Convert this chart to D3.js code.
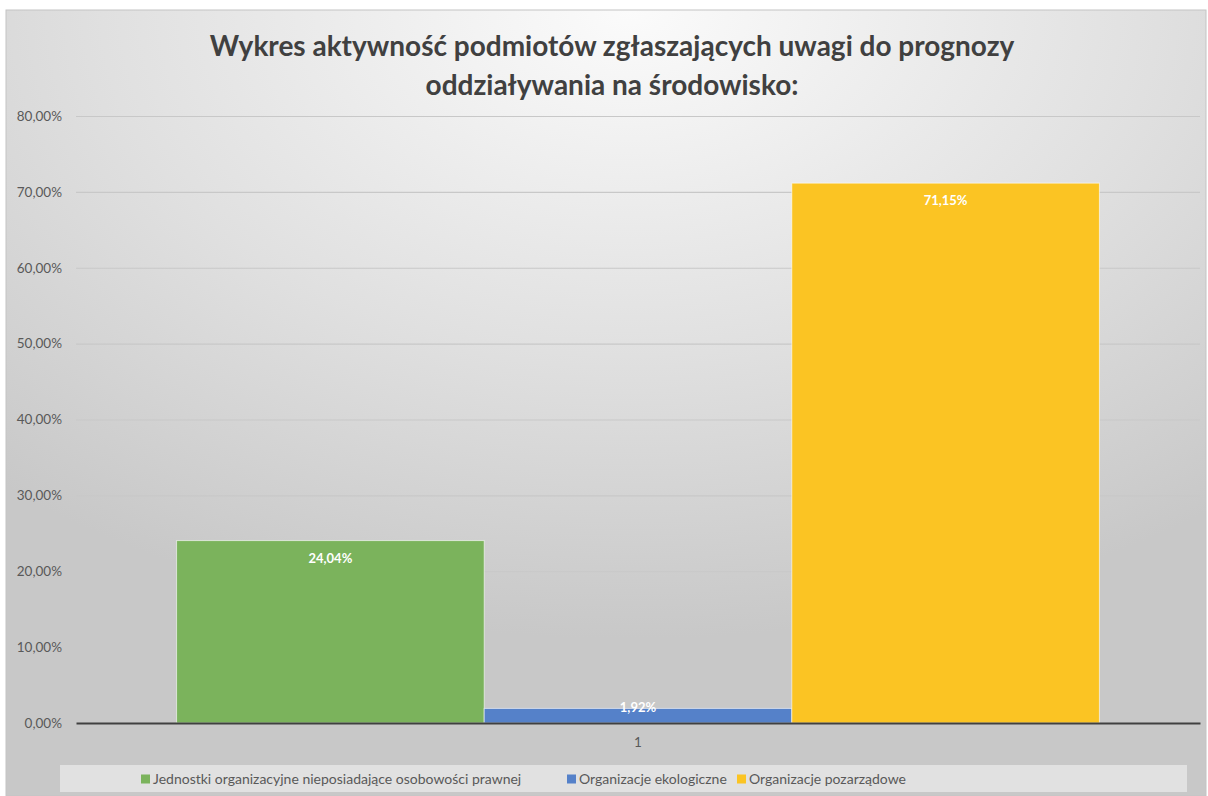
<!DOCTYPE html>
<html>
<head>
<meta charset="utf-8">
<script src="https://cdn.jsdelivr.net/npm/d3@7"></script>
<style>
  html, body { margin: 0; padding: 0; background: #ffffff; }
  svg { display: block; font-family: Lato, "Open Sans", sans-serif; }
</style>
</head>
<body>
<div id="chart"></div>
<script>
// chart data
const titleLines = ["Wykres aktywność podmiotów zgłaszających uwagi do prognozy", "oddziaływania na środowisko:"];
const categories = ["1"];
const seriesNames = [
  "Jednostki organizacyjne nieposiadające osobowości prawnej",
  "Organizacje ekologiczne",
  "Organizacje pozarządowe"
];
const seriesValues = [24.04, 1.92, 71.15];
const seriesColors = ["#7bb35c", "#5581c9", "#fbc423"];
const yTicks = [0, 10, 20, 30, 40, 50, 60, 70, 80];

const width = 1208;
const height = 796;

const frame = { left: 6, top: 10, right: 1206, bottom: 796 };
const plot = { left: 76, right: 1200, top: 116, bottom: 723 };

const fmt = v => v.toFixed(2).replace('.', ',') + '%';

const svg = d3.select('#chart')
  .append('svg')
  .attr('width', width)
  .attr('height', height)
  .attr('viewBox', [0, 0, width, height]);

const defs = svg.append('defs');

// soft radial background like the office chart style
const bg = defs.append('radialGradient')
  .attr('id', 'bg')
  .attr('cx', '52%').attr('cy', '0%')
  .attr('r', '80%');
bg.append('stop').attr('offset', '0%').attr('stop-color', '#fbfbfb');
bg.append('stop').attr('offset', '55%').attr('stop-color', '#e0e0e0');
bg.append('stop').attr('offset', '100%').attr('stop-color', '#c8c8c8');

// gridlines fade from light at top to darker at bottom
const gridGrad = defs.append('linearGradient')
  .attr('id', 'gridGrad')
  .attr('gradientUnits', 'userSpaceOnUse')
  .attr('x1', 0).attr('y1', plot.top)
  .attr('x2', 0).attr('y2', plot.bottom);
gridGrad.append('stop').attr('offset', '0%').attr('stop-color', '#c8c8c8');
gridGrad.append('stop').attr('offset', '100%').attr('stop-color', '#777777');

svg.append('rect')
  .attr('x', frame.left)
  .attr('y', frame.top)
  .attr('width', frame.right - frame.left)
  .attr('height', frame.bottom - frame.top)
  .attr('fill', 'url(#bg)')
  .attr('stroke', '#c4c4c4')
  .attr('stroke-width', 1);

// title
svg.append('text')
  .attr('text-anchor', 'middle')
  .attr('fill', '#404040')
  .attr('font-weight', 'bold')
  .attr('font-size', 28)
  .selectAll('tspan')
  .data(titleLines)
  .join('tspan')
  .attr('x', 612)
  .attr('y', (d, i) => 56 + i * 39)
  .text(d => d);

// scales
const yScale = d3.scaleLinear()
  .domain([0, 80])
  .range([plot.bottom, plot.top]);

const x0 = d3.scaleBand()
  .domain(categories)
  .range([plot.left, plot.right])
  .paddingOuter(0.109);

const x1 = d3.scaleBand()
  .domain(seriesNames)
  .range([0, x0.bandwidth()])
  .padding(0);

// gridlines
const grid = svg.append('g')
  .attr('transform', `translate(${plot.left},0)`)
  .call(d3.axisLeft(yScale).tickValues(yTicks).tickSize(-(plot.right - plot.left)).tickFormat(''));
grid.select('.domain').remove();
grid.selectAll('.tick line')
  .attr('stroke', 'url(#gridGrad)')
  .attr('stroke-width', 1.2);

// y tick labels
const yAxis = svg.append('g')
  .attr('transform', `translate(${plot.left},0)`)
  .call(d3.axisLeft(yScale).tickValues(yTicks).tickSize(0).tickPadding(14).tickFormat(d => fmt(d)));
yAxis.select('.domain').remove();
yAxis.selectAll('text')
  .attr('fill', '#595959')
  .attr('font-size', 13.5)
  .attr('font-family', 'Lato, "Open Sans", sans-serif');

// bars
const barData = seriesNames.map((name, i) => ({ name, value: seriesValues[i], color: seriesColors[i] }));

const group = svg.append('g')
  .attr('transform', `translate(${x0(categories[0])},0)`);

group.selectAll('rect.bar')
  .data(barData)
  .join('rect')
  .attr('class', 'bar')
  .attr('x', d => x1(d.name))
  .attr('y', d => yScale(d.value))
  .attr('width', x1.bandwidth())
  .attr('height', d => yScale(0) - yScale(d.value))
  .attr('fill', d => d.color)
  .attr('stroke', 'rgba(255,255,255,0.6)')
  .attr('stroke-width', 1);

// data labels (inside end)
group.selectAll('text.lbl')
  .data(barData)
  .join('text')
  .attr('class', 'lbl')
  .attr('x', d => x1(d.name) + x1.bandwidth() / 2)
  .attr('y', d => Math.min(yScale(d.value) + 22, yScale(0) - 11))
  .attr('text-anchor', 'middle')
  .attr('fill', '#ffffff')
  .attr('font-weight', 'bold')
  .attr('font-size', 13)
  .text(d => fmt(d.value));

// category axis line
const xAxis = svg.append('g')
  .attr('transform', `translate(0,${plot.bottom})`)
  .call(d3.axisBottom(x0).tickSize(0).tickPadding(14));
xAxis.select('.domain')
  .attr('stroke', '#404040')
  .attr('stroke-width', 2);
xAxis.selectAll('text')
  .attr('fill', '#595959')
  .attr('font-size', 13.5)
  .attr('font-family', 'Lato, "Open Sans", sans-serif');

// legend
svg.append('rect')
  .attr('x', 60)
  .attr('y', 765)
  .attr('width', 1127)
  .attr('height', 27)
  .attr('fill', '#e3e3e3')
  .attr('opacity', 0.9);

const legendX = [141, 567, 737];
const legend = svg.append('g');
const items = legend.selectAll('g')
  .data(barData)
  .join('g')
  .attr('transform', (d, i) => `translate(${legendX[i]},779)`);
items.append('rect')
  .attr('x', 0)
  .attr('y', -4.5)
  .attr('width', 9)
  .attr('height', 9)
  .attr('fill', d => d.color);
items.append('text')
  .attr('x', 12)
  .attr('y', 5)
  .attr('fill', '#595959')
  .attr('font-size', 14)
  .text(d => d.name);
</script>
</body>
</html>
